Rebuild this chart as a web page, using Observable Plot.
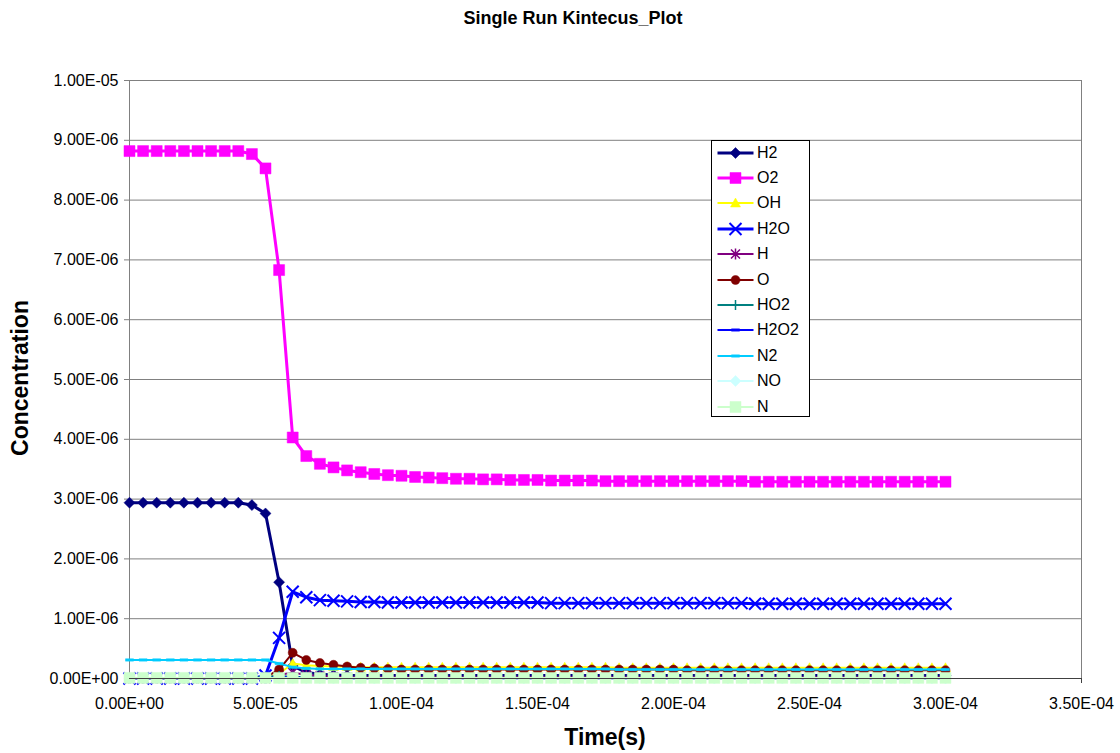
<!DOCTYPE html>
<html><head><meta charset="utf-8">
<script src="https://cdn.jsdelivr.net/npm/d3@7"></script>
<script src="https://cdn.jsdelivr.net/npm/@observablehq/plot@0.6"></script>
<style>
body{margin:0;background:#fff;font-family:"Liberation Sans",Arial,sans-serif;}
#wrap{position:relative;width:1120px;height:753px;overflow:hidden;background:#fff;}
#wrap svg{position:absolute;left:0;top:0;}
.ttl{position:absolute;font-weight:bold;white-space:nowrap;color:#000;}
#title{left:573px;top:18px;transform:translate(-50%,-50%);font-size:18px;}
#xtitle{left:605px;top:737px;transform:translate(-50%,-50%);font-size:23px;}
#ytitle{left:20px;top:378px;transform:translate(-50%,-50%) rotate(-90deg);font-size:23px;}
#legend{position:absolute;left:711px;top:140px;width:99px;height:277px;border:1px solid #000;background:#fff;box-sizing:border-box;}
.lrow{position:absolute;left:0;height:20px;width:98px;}
.lrow svg{position:absolute;left:0;top:0;}
.lrow span{position:absolute;left:45px;top:1px;font-size:16px;line-height:18px;}
</style>
</head><body>
<div id="wrap">
  <div id="title" class="ttl">Single Run Kintecus_Plot</div>
  <div id="xtitle" class="ttl">Time(s)</div>
  <div id="ytitle" class="ttl">Concentration</div>
  <div id="legend"></div>
</div>
<script>
// ---- data (concentrations in units of 1e-6) ----
const timeUs = [0,5,10,15,20,25,30,35,40,45,50,55,60,65,70,75,80,85,90,95,100,105,110,115,120,125,130,135,140,145,150,155,160,165,170,175,180,185,190,195,200,205,210,215,220,225,230,235,240,245,250,255,260,265,270,275,280,285,290,295,300];

const H2 = [2.94,2.94,2.94,2.94,2.94,2.94,2.94,2.94,2.94,2.90,
  2.76,1.61,0.21,0.10,0.07,0.06,0.05,0.05,0.05,0.05,
  0.05,0.05,0.05,0.05,0.05,0.05,0.05,0.05,0.05,0.05,
  0.05,0.05,0.05,0.05,0.05,0.05,0.05,0.05,0.05,0.05,
  0.05,0.05,0.05,0.05,0.05,0.05,0.05,0.05,0.05,0.05,
  0.05,0.05,0.05,0.05,0.05,0.05,0.05,0.05,0.05,0.05,
  0.05];
const O2 = [8.82,8.82,8.82,8.82,8.82,8.82,8.82,8.82,8.82,8.77,
  8.53,6.83,4.03,3.72,3.59,3.53,3.48,3.45,3.42,3.40,
  3.39,3.37,3.36,3.35,3.34,3.34,3.33,3.33,3.32,3.32,
  3.32,3.31,3.31,3.31,3.31,3.30,3.30,3.30,3.30,3.30,
  3.30,3.30,3.30,3.30,3.30,3.30,3.29,3.29,3.29,3.29,
  3.29,3.29,3.29,3.29,3.29,3.29,3.29,3.29,3.29,3.29,
  3.29];
const OH = [0,0,0,0,0,0,0,0,0,0,
  0,0.08,0.25,0.22,0.21,0.20,0.20,0.19,0.19,0.19,
  0.19,0.19,0.19,0.19,0.19,0.19,0.19,0.19,0.19,0.19,
  0.19,0.19,0.19,0.19,0.19,0.19,0.18,0.18,0.18,0.18,
  0.18,0.18,0.18,0.18,0.18,0.18,0.18,0.18,0.18,0.18,
  0.18,0.18,0.18,0.18,0.18,0.18,0.18,0.18,0.18,0.18,
  0.18];
const H2O = [0,0,0,0,0,0,0,0,0,0,
  0.05,0.68,1.45,1.36,1.31,1.30,1.29,1.28,1.28,1.27,
  1.27,1.27,1.27,1.27,1.27,1.27,1.27,1.27,1.27,1.27,
  1.27,1.26,1.26,1.26,1.26,1.26,1.26,1.26,1.26,1.26,
  1.26,1.26,1.26,1.26,1.26,1.26,1.25,1.25,1.25,1.25,
  1.25,1.25,1.25,1.25,1.25,1.25,1.25,1.25,1.25,1.25,
  1.25];
const H = [0,0,0,0,0,0,0,0,0,0,
  0,0.06,0.10,0.06,0.04,0.03,0.02,0.02,0.02,0.02,
  0.02,0.02,0.02,0.02,0.02,0.02,0.02,0.02,0.02,0.02,
  0.02,0.02,0.02,0.02,0.02,0.02,0.02,0.02,0.02,0.02,
  0.02,0.02,0.02,0.02,0.02,0.02,0.02,0.02,0.02,0.02,
  0.02,0.02,0.02,0.02,0.02,0.02,0.02,0.02,0.02,0.02,
  0.02];
const O = [0,0,0,0,0,0,0,0,0,0,
  0.02,0.15,0.43,0.31,0.26,0.23,0.20,0.18,0.17,0.16,
  0.15,0.15,0.15,0.15,0.15,0.15,0.15,0.15,0.15,0.15,
  0.15,0.15,0.15,0.15,0.15,0.15,0.15,0.15,0.15,0.15,
  0.15,0.14,0.14,0.14,0.14,0.14,0.14,0.14,0.14,0.14,
  0.14,0.14,0.14,0.14,0.14,0.14,0.14,0.14,0.14,0.14,
  0.14];
const HO2 = [0.01,0.01,0.01,0.01,0.01,0.01,0.01,0.01,0.01,0.01,
  0.03,0.04,0.03,0.02,0.01,0.01,0.01,0.01,0.01,0.01,
  0.01,0.01,0.01,0.01,0.01,0.01,0.01,0.01,0.01,0.01,
  0.01,0.01,0.01,0.01,0.01,0.01,0.01,0.01,0.01,0.01,
  0.01,0.01,0.01,0.01,0.01,0.01,0.01,0.01,0.01,0.01,
  0.01,0.01,0.01,0.01,0.01,0.01,0.01,0.01,0.01,0.01,
  0.01];
const H2O2 = [0,0,0,0,0,0,0,0,0,0,
  0.01,0.02,0.02,0.01,0,0,0,0,0,0,
  0,0,0,0,0,0,0,0,0,0,
  0,0,0,0,0,0,0,0,0,0,
  0,0,0,0,0,0,0,0,0,0,
  0,0,0,0,0,0,0,0,0,0,
  0];
const N2 = [0.31,0.31,0.31,0.31,0.31,0.31,0.31,0.31,0.31,0.31,
  0.31,0.25,0.19,0.17,0.16,0.16,0.16,0.16,0.16,0.16,
  0.16,0.16,0.16,0.16,0.16,0.16,0.16,0.16,0.16,0.16,
  0.16,0.16,0.16,0.16,0.16,0.16,0.15,0.15,0.15,0.15,
  0.15,0.15,0.15,0.15,0.15,0.15,0.15,0.15,0.15,0.15,
  0.15,0.15,0.15,0.15,0.15,0.15,0.15,0.15,0.15,0.15,
  0.15];
const NO = [0,0,0,0,0,0,0,0,0,0,
  0,0,0,0,0,0,0,0,0,0,
  0,0,0,0,0,0,0,0,0,0,
  0,0,0,0,0,0,0,0,0,0,
  0,0,0,0,0,0,0,0,0,0,
  0,0,0,0,0,0,0,0,0,0,
  0];
const N = [0.01,0.01,0.01,0.01,0.01,0.01,0.01,0.01,0.01,0.01,
  0.01,0.01,0.01,0.01,0.01,0.01,0.01,0.01,0.01,0.01,
  0.01,0.01,0.01,0.01,0.01,0.01,0.01,0.01,0.01,0.01,
  0.01,0.01,0.01,0.01,0.01,0.01,0.01,0.01,0.01,0.01,
  0.01,0.01,0.01,0.01,0.01,0.01,0.01,0.01,0.01,0.01,
  0.01,0.01,0.01,0.01,0.01,0.01,0.01,0.01,0.01,0.01,
  0.01];

const seriesNames = ["H2","O2","OH","H2O","H","O","HO2","H2O2","N2","NO","N"];
const seriesValues = [H2,O2,OH,H2O,H,O,HO2,H2O2,N2,NO,N];

const xTicks = [0,5e-5,1e-4,1.5e-4,2e-4,2.5e-4,3e-4,3.5e-4];
const xTickLabels = ["0.00E+00","5.00E-05","1.00E-04","1.50E-04","2.00E-04","2.50E-04","3.00E-04","3.50E-04"];
const yTicks = [0,1e-6,2e-6,3e-6,4e-6,5e-6,6e-6,7e-6,8e-6,9e-6,1e-5];
const yTickLabels = ["0.00E+00","1.00E-06","2.00E-06","3.00E-06","4.00E-06","5.00E-06","6.00E-06","7.00E-06","8.00E-06","9.00E-06","1.00E-05"];

// ---- symbols ----
const R = s => Math.sqrt(s / Math.PI);
const symDiamond = {draw(c,s){const r=R(s);c.moveTo(0,-r);c.lineTo(r,0);c.lineTo(0,r);c.lineTo(-r,0);c.closePath();}};
const symSquare = {draw(c,s){const r=R(s);c.rect(-r,-r,2*r,2*r);}};
const symTriangle = {draw(c,s){const r=R(s);c.moveTo(0,-r);c.lineTo(r,r*0.8);c.lineTo(-r,r*0.8);c.closePath();}};
const symTimes = {draw(c,s){const r=R(s);c.moveTo(-r,-r);c.lineTo(r,r);c.moveTo(r,-r);c.lineTo(-r,r);}};
const symAsterisk = {draw(c,s){const r=R(s);c.moveTo(-r,-r);c.lineTo(r,r);c.moveTo(r,-r);c.lineTo(-r,r);c.moveTo(0,-r*1.2);c.lineTo(0,r*1.2);}};
const symCircle = {draw(c,s){const r=R(s);c.moveTo(r,0);c.arc(0,0,r,0,2*Math.PI);}};
const symPlus = {draw(c,s){const r=R(s);c.moveTo(-r,0);c.lineTo(r,0);c.moveTo(0,-r);c.lineTo(0,r);}};
const symDash = {draw(c,s){const r=R(s);c.rect(-r,-r*0.3,2*r,r*0.6);}};

const styles = {
  H2:   {color:"#000080", lw:3, sym:symDiamond,  r:5.5, filled:true},
  O2:   {color:"#FF00FF", lw:3, sym:symSquare,   r:5.5, filled:true},
  OH:   {color:"#FFFF00", lw:2, sym:symTriangle, r:5,   filled:true},
  H2O:  {color:"#0000FF", lw:3, sym:symTimes,    r:6,   filled:false, sw:2},
  H:    {color:"#800080", lw:2, sym:symAsterisk, r:4.5, filled:false, sw:1.5},
  O:    {color:"#800000", lw:2, sym:symCircle,   r:4.5, filled:true},
  HO2:  {color:"#008080", lw:2, sym:symPlus,     r:5,   filled:false, sw:1.5},
  H2O2: {color:"#0000FF", lw:2, sym:symDash,     r:4,   filled:true},
  N2:   {color:"#00CCFF", lw:2, sym:symDash,     r:4,   filled:true},
  NO:   {color:"#CCFFFF", lw:2, sym:symDiamond,  r:5.5, filled:true},
  N:    {color:"#CCFFCC", lw:2, sym:symSquare,   r:5.5, filled:true}
};

const rows = seriesNames.map((name, k) =>
  timeUs.map((t, i) => ({series: name, t: t * 1e-6, c: seriesValues[k][i] * 1e-6})));

const marks = [
  Plot.gridY(yTicks.slice(1), {stroke:"#808080", strokeOpacity:1}),
  Plot.ruleX([xTicks[xTicks.length-1]], {stroke:"#808080"}),
  Plot.ruleX([0], {stroke:"#808080"}),
  Plot.axisY(yTicks, {tickSize:5, tickPadding:6, stroke:"#808080", fill:"#000", fontSize:16,
    tickFormat: d => yTickLabels[yTicks.indexOf(d)]}),
  Plot.axisX(xTicks, {tickSize:5, tickPadding:14, stroke:"#404040", fill:"#000", fontSize:16,
    tickFormat: d => xTickLabels[xTicks.indexOf(d)]})
];
seriesNames.forEach((name, k) => {
  const s = styles[name];
  const data = rows[k];
  marks.push(Plot.line(data, {x:"t", y:"c", stroke:s.color, strokeWidth:s.lw}));
  marks.push(Plot.dot(data, {x:"t", y:"c", symbol:s.sym, r:s.r,
    fill: s.filled ? s.color : "none",
    stroke: s.color, strokeWidth: s.filled ? 0.5 : s.sw}));
});
marks.push(Plot.ruleY([0], {stroke:"#404040"}));

const chart = Plot.plot({
  width:1120, height:753,
  marginLeft:129, marginRight:39, marginTop:80, marginBottom:75,
  x:{domain:[0,3.5e-4], label:null},
  y:{domain:[0,1e-5], label:null},
  style:{background:"transparent", fontFamily:"'Liberation Sans', Arial, sans-serif", fontSize:"16px", color:"#000"},
  marks
});
const wrap = document.getElementById("wrap");
wrap.insertBefore(chart, wrap.firstChild);

// ---- legend ----
const legend = document.getElementById("legend");
seriesNames.forEach((name, i) => {
  const s = styles[name];
  const row = document.createElement("div");
  row.className = "lrow";
  row.style.top = (1.5 + i * 25.4) + "px";
  const sym = d3.symbol(s.sym, s.r * s.r * Math.PI)();
  row.innerHTML = `<svg width="44" height="20"><line x1="5.5" x2="41.5" y1="10" y2="10" stroke="${s.color}" stroke-width="${s.lw}"/>` +
    `<path transform="translate(23.5,10)" d="${sym}" fill="${s.filled ? s.color : "none"}" stroke="${s.color}" stroke-width="${s.filled ? 0.5 : s.sw}"/></svg>` +
    `<span>${name}</span>`;
  legend.appendChild(row);
});
</script>
</body></html>
